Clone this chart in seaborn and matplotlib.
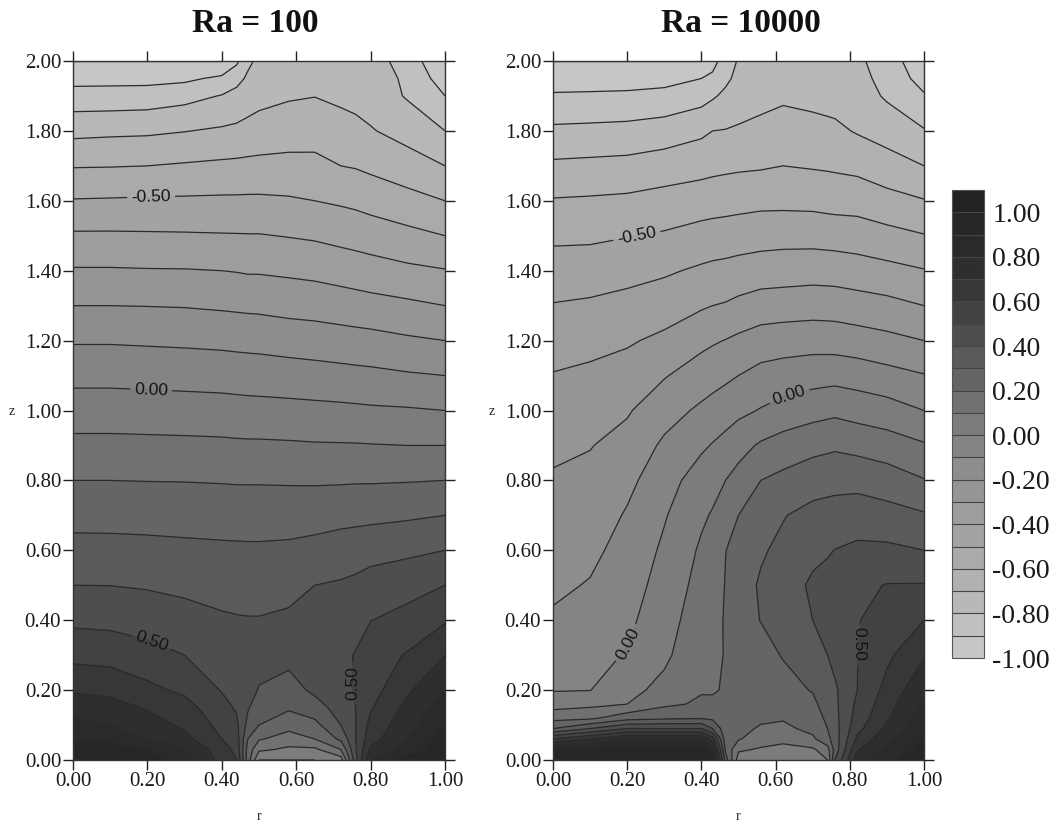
import numpy as np
import matplotlib
matplotlib.use("Agg")
import matplotlib.pyplot as plt
import seaborn as sns

levels = [round(-1.0 + 0.1 * i, 1) for i in range(22)]
bar_ticks = [-1.0, -0.8, -0.6, -0.4, -0.2, 0.0, 0.2, 0.4, 0.6, 0.8, 1.0]
axis_r_ticks = [0.0, 0.2, 0.4, 0.6, 0.8, 1.0]
axis_z_ticks = [0.0, 0.2, 0.4, 0.6, 0.8, 1.0, 1.2, 1.4, 1.6, 1.8, 2.0]
titles = ["Ra = 100", "Ra = 10000"]

# ---- Ra = 100: temperature ----
r_left = [0, .1, .2, .3, .4, .44, .47, .5, .58, .65, .72, .76, .8, .9, 1.0]
z_left = [2.0, 1.95, 1.9, 1.8, 1.7, 1.6, 1.5, 1.4, 1.3, 1.2, 1.1, 1.0, .9, .8, .7, .6, .5, .4, .3, .2, .15, .1, .06, .03, 0]
T_left = [
 [-1, -1, -1, -1, -1, -.92, -.82, -.78, -.75, -.75, -.75, -.755, -.76, -.84, -1],
 [-.933, -.93, -.93, -.92, -.88, -.83, -.785, -.76, -.735, -.73, -.725, -.73, -.745, -.82, -.95],
 [-.86, -.86, -.855, -.833, -.795, -.77, -.75, -.73, -.71, -.702, -.72, -.73, -.74, -.81, -.9],
 [-.727, -.72, -.716, -.703, -.687, -.68, -.667, -.659, -.644, -.642, -.66, -.673, -.693, -.736, -.8],
 [-.606, -.604, -.60, -.59, -.581, -.578, -.576, -.574, -.572, -.573, -.6, -.607, -.621, -.657, -.7],
 [-.494, -.491, -.487, -.486, -.484, -.484, -.483, -.483, -.489, -.5, -.513, -.522, -.536, -.567, -.6],
 [-.386, -.386, -.388, -.39, -.393, -.394, -.395, -.395, -.404, -.413, -.429, -.4375, -.448, -.473, -.5],
 [-.291, -.291, -.294, -.295, -.3, -.304, -.309, -.309, -.317, -.326, -.341, -.35, -.359, -.38, -.395],
 [-.2, -.2, -.202, -.205, -.213, -.217, -.22, -.222, -.233, -.239, -.25, -.257, -.265, -.281, -.3],
 [-.109, -.109, -.113, -.117, -.123, -.127, -.13, -.132, -.143, -.15, -.159, -.164, -.168, -.186, -.2],
 [-.028, -.028, -.032, -.036, -.04, -.044, -.046, -.048, -.054, -.061, -.068, -.073, -.077, -.09, -.1],
 [.05, .05, .047, .044, .04, .037, .034, .033, .029, .025, .021, .018, .014, .009, 0],
 [.126, .126, .124, .122, .119, .116, .115, .115, .112, .108, .107, .106, .104, .10, .10],
 [.2, .2, .198, .197, .194, .192, .192, .192, .19, .189, .19, .192, .192, .195, .2],
 [.267, .266, .264, .261, .258, .256, .255, .255, .257, .261, .269, .272, .275, .286, .30],
 [.333, .332, .328, .322, .317, .316, .315, .315, .319, .331, .348, .357, .367, .381, .40],
 [.4, .399, .391, .378, .366, .364, .362, .362, .373, .40, .41, .42, .438, .462, .5],
 [.48, .474, .459, .437, .4125, .407, .405, .405, .415, .43, .45, .47, .498, .536, .59],
 [.571, .562, .533, .5, .454, .433, .43, .43, .43, .45, .48, .505, .558, .608, .7],
 [.688, .675, .625, .58, .495, .47, .43, .395, .36, .42, .46, .51, .56, .685, .8],
 [.757, .737, .69, .64, .53, .49, .41, .345, .314, .36, .44, .5, .59, .73, .85],
 [.833, .8, .75, .68, .57, .52, .37, .3, .236, .27, .4, .5, .63, .765, .9],
 [.9, .88, .8, .73, .6, .55, .3, .21, .155, .2, .32, .5, .66, .8, .95],
 [.95, .95, .9, .8, .65, .57, .26, .12, .08, .08, .2, .49, .72, .85, .97],
 [1, 1, .95, .85, .66, .6, .25, 0, 0, 0, .05, .47, .8, .95, 1],
]

# ---- Ra = 10000: one list per r column, same z order top to bottom ----
z_right = [2.0, 1.95, 1.9, 1.8, 1.7, 1.6, 1.5, 1.4, 1.3, 1.2, 1.1, 1.0, .9, .8, .7, .6, .5, .4, .3, .2, .16, .12, .09, .06, .03, 0]
r_right = [0, .1, .2, .3, .4, .43, .465, .5, .56, .62, .7, .74, .76, .82, .9, 1.0]
T_r000 = [-1, -.944, -.889, -.78, -.682, -.593, -.519, -.455, -.395, -.344, -.295, -.257, -.22, -.189, -.165, -.141, -.117, -.088, -.053, -.006, .055, .167, .3, .6, .9, 1]
T_r010 = [-1, -.943, -.886, -.775, -.676, -.588, -.516, -.453, -.384, -.332, -.279, -.244, -.204, -.176, -.15, -.121, -.094, -.063, -.032, -.002, .075, .18, .4, .7, .95, 1]
T_r020 = [-1, -.941, -.882, -.769, -.67, -.581, -.504, -.432, -.369, -.311, -.26, -.21, -.166, -.123, -.091, -.067, -.044, -.021, .007, .073, .1, .26, .5, .8, .95, 1]
T_r030 = [-1, -.933, -.87, -.753, -.651, -.565, -.489, -.413, -.347, -.279, -.207, -.138, -.083, -.045, -.008, .017, .038, .059, .081, .127, .18, .28, .5, .8, .95, 1]
T_r040 = [-1, -.9, -.838, -.719, -.634, -.548, -.464, -.385, -.311, -.226, -.15, -.083, -.017, .052, .085, .114, .134, .154, .174, .193, .214, .29, .5, .8, .95, 1]
T_r043 = [-.93, -.882, -.812, -.7, -.626, -.543, -.458, -.377, -.3, -.211, -.137, -.064, .006, .069, .108, .126, .143, .16, .178, .195, .21, .28, .4, .65, .85, .95]
T_r046 = [-.86, -.82, -.78, -.696, -.62, -.538, -.454, -.371, -.292, -.197, -.12, -.042, .03, .1, .148, .198, .205, .21, .205, .205, .22, .23, .24, .25, .28, .35]
T_r050 = [-.79, -.775, -.76, -.686, -.615, -.533, -.448, -.362, -.276, -.18, -.1, -.023, .065, .135, .2, .235, .26, .265, .26, .25, .245, .24, .225, .21, .115, .05]
T_r056 = [-.765, -.755, -.735, -.67, -.61, -.525, -.44, -.35, -.255, -.155, -.068, .006, .113, .2, .245, .29, .31, .302, .27, .24, .23, .215, .19, .14, .09, .05]
T_r062 = [-.75, -.735, -.715, -.66, -.6, -.525, -.435, -.345, -.25, -.145, -.055, .035, .143, .225, .295, .32, .34, .33, .305, .27, .24, .21, .175, .125, .07, .05]
T_r070 = [-.755, -.74, -.73, -.665, -.608, -.528, -.436, -.34, -.243, -.14, -.04, .063, .17, .258, .33, .37, .42, .40, .35, .305, .28, .25, .23, .18, .085, .03]
T_r074 = [-.765, -.75, -.735, -.675, -.612, -.535, -.44, -.343, -.244, -.143, -.035, .073, .18, .266, .337, .39, .435, .43, .40, .36, .34, .32, .30, .27, .16, .10]
T_r076 = [-.77, -.755, -.737, -.68, -.615, -.538, -.442, -.345, -.245, -.145, -.033, .078, .185, .27, .34, .402, .44, .45, .43, .385, .38, .37, .36, .35, .34, .40]
T_r082 = [-.78, -.77, -.755, -.708, -.626, -.54, -.45, -.355, -.257, -.156, -.044, .06, .17, .27, .35, .42, .478, .495, .498, .50, .52, .54, .57, .62, .69, .75]
T_r090 = [-.85, -.83, -.812, -.743, -.656, -.568, -.469, -.372, -.271, -.174, -.067, .042, .147, .25, .335, .42, .504, .54, .58, .632, .657, .686, .72, .77, .83, .88]
T_r100 = [-.97, -.94, -.89, -.793, -.70, -.595, -.495, -.395, -.30, -.20, -.095, 0, .11, .205, .31, .40, .506, .60, .69, .78, .82, .855, .88, .91, .94, .96]
T_right = np.column_stack([T_r000, T_r010, T_r020, T_r030, T_r040, T_r043, T_r046, T_r050,
                           T_r056, T_r062, T_r070, T_r074, T_r076, T_r082, T_r090, T_r100])

# contour labels: where each sits on its line (r, z)
label_pos_left = [(0.21, 1.615), (0.21, 1.06), (0.21, 0.335), (0.755, 0.22)]
label_pos_right = [(0.225, 1.505), (0.64, 1.03), (0.21, 0.33), (0.835, 0.33)]

sns.set_theme(style="ticks")
plt.rcParams["font.family"] = ["Liberation Serif", "DejaVu Serif"]
plt.rcParams["axes.unicode_minus"] = False

W, H = 1060, 825
fig = plt.figure(figsize=(W / 100, H / 100), dpi=100, facecolor="white")


def box(x0, x1, y0, y1):
    return [x0 / W, 1 - y1 / H, (x1 - x0) / W, (y1 - y0) / H]


band_colors = sns.blend_palette(["#c6c6c6", "#afafaf", "#989898", "#7c7c7c", "#565656", "#2f2f2f", "#222222"], 21)
line_color = "#2a2a2a"


def panel(rect, r, z, T, label_pos, title, xc, last_rotation):
    ax = fig.add_axes(rect)
    T = np.asarray(T, dtype=float)
    cf = ax.contourf(r, z, T, levels=levels, colors=band_colors)
    cs = ax.contour(r, z, T, levels=levels, colors=line_color, linewidths=0.9,
                    negative_linestyles="solid")
    texts = ax.clabel(cs, manual=label_pos, fmt="%.2f", fontsize=12.5, inline=True,
                      inline_spacing=6, colors="#141414")
    for t in texts:
        t.set_family("Liberation Sans")
    texts[-1].set_rotation(last_rotation)
    ax.set_xlim(0, 1)
    ax.set_ylim(0, 2)
    ax.set_xticks(axis_r_ticks)
    ax.set_yticks(axis_z_ticks)
    ax.xaxis.set_major_formatter("{x:.2f}")
    ax.yaxis.set_major_formatter("{x:.2f}")
    ax.tick_params(axis="both", which="major", direction="out", length=7, width=1.0,
                   top=True, right=True, labelsize=15, color="#222222",
                   labelcolor="#1a1a1a", pad=1.5)
    for s in ax.spines.values():
        s.set_linewidth(1.0)
        s.set_color("#333333")
    ax.set_xlabel("r", fontsize=10, color="#222222", va="center")
    ax.set_ylabel("z", fontsize=10, rotation=0, color="#222222", va="center", ha="center")
    ax.xaxis.set_label_coords(0.5, -(816 - 760) / 699)
    ax.yaxis.set_label_coords(-61 / (rect[2] * W), (760 - 411) / 699)
    fig.text(xc / W, 1 - 24 / H, title, ha="center", va="center",
             fontsize=24, fontweight="bold", color="#111111")
    return cf


cf = panel(box(73, 445, 61, 760), r_left, z_left, T_left, label_pos_left, titles[0], 255, 90)
panel(box(553, 924, 61, 760), r_right, z_right, T_right, label_pos_right, titles[1], 741, -90)

cax = fig.add_axes(box(952, 984, 190, 658))
cb = fig.colorbar(cf, cax=cax, ticks=bar_ticks, drawedges=True)
cb.ax.tick_params(length=0, labelsize=20, pad=6, labelcolor="#1a1a1a")
cb.dividers.set_color("#444444")
cb.dividers.set_linewidth(0.8)
cb.outline.set_edgecolor("#555555")
cb.outline.set_linewidth(0.8)
cb.ax.yaxis.set_major_formatter("{x:.2f}")

fig.savefig("out.png", dpi=100, facecolor="white")
